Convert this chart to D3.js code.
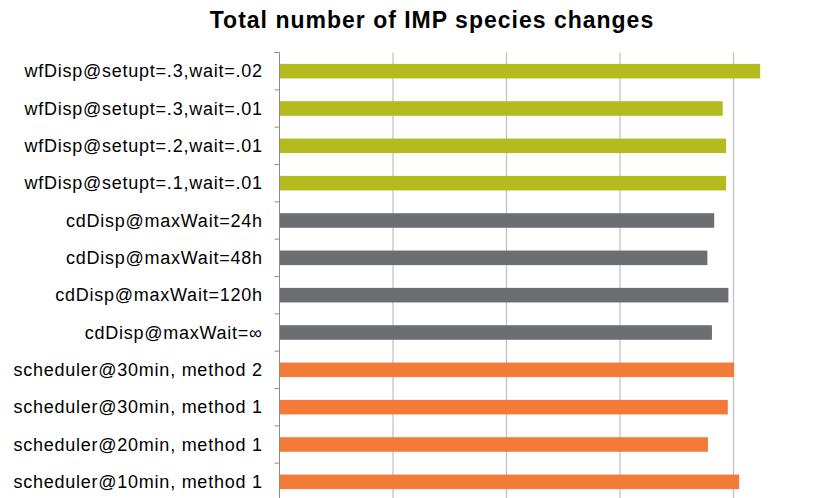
<!DOCTYPE html>
<html lang="en">
<head>
    <meta charset="UTF-8">
    <title>Total number of IMP species changes</title>
    <script src="https://cdn.jsdelivr.net/npm/d3@7"></script>
    <style>
        html, body {
            margin: 0;
            padding: 0;
            width: 100%;
            height: 100%;
            overflow: hidden;
            background: #fff;
        }
        text {
            font-family: Arial, 'Liberation Sans', sans-serif;
        }
        .grid line {
            stroke: #c4c4c4;
            stroke-width: 1.3px;
        }
        .axis line {
            stroke: #8c8c8c;
            stroke-width: 1px;
        }
    </style>
</head>
<body>
</body>
<script>
    // categories top to bottom
    let categories = [
        'wfDisp@setupt=.3,wait=.02',
        'wfDisp@setupt=.3,wait=.01',
        'wfDisp@setupt=.2,wait=.01',
        'wfDisp@setupt=.1,wait=.01',
        'cdDisp@maxWait=24h',
        'cdDisp@maxWait=48h',
        'cdDisp@maxWait=120h',
        'cdDisp@maxWait=\u221e',
        'scheduler@30min, method 2',
        'scheduler@30min, method 1',
        'scheduler@20min, method 1',
        'scheduler@10min, method 1'
    ];
    let values = [847, 781, 787, 787, 766, 754, 791, 762, 801, 790, 755, 810];
    let groups = ['wf', 'wf', 'wf', 'wf', 'cd', 'cd', 'cd', 'cd', 'sch', 'sch', 'sch', 'sch'];
    let gridTicks = [0, 200, 400, 600, 800];

    let colors = {wf: '#b3bb1f', cd: '#6d6e71', sch: '#f47a37'};

    let width = 833;
    let height = 498;

    let svg = d3.select('body').append('svg')
        .attr('width', width)
        .attr('height', height);

    let x = d3.scaleLinear().domain([0, 800]).range([279.5, 733.5]);
    let y = d3.scaleBand()
        .domain(categories)
        .range([52.5, 500.5])
        .paddingInner(0.61)
        .paddingOuter(0.305);

    svg.append('text')
        .attr('x', 432)
        .attr('y', 28)
        .attr('text-anchor', 'middle')
        .style('font-size', '23px')
        .style('font-weight', 'bold')
        .style('letter-spacing', '1px')
        .text('Total number of IMP species changes');

    // vertical gridlines
    svg.append('g').classed('grid', true)
        .selectAll('line')
        .data(gridTicks.slice(1)).enter()
        .append('line')
        .attr('x1', d => x(d))
        .attr('x2', d => x(d))
        .attr('y1', 52.5)
        .attr('y2', height + 10);

    // bars
    svg.append('g')
        .selectAll('rect')
        .data(categories).enter()
        .append('rect')
        .attr('x', x(0))
        .attr('y', d => y(d))
        .attr('height', y.bandwidth())
        .attr('width', (d, i) => x(values[i]) - x(0))
        .attr('fill', (d, i) => colors[groups[i]]);

    // category axis
    let axis = svg.append('g').classed('axis', true);
    axis.append('line')
        .attr('x1', x(0)).attr('x2', x(0))
        .attr('y1', 52.5).attr('y2', height + 10);
    let step = y.step();
    axis.selectAll('.tick')
        .data(d3.range(categories.length + 1)).enter()
        .append('line')
        .attr('x1', x(0) - 5).attr('x2', x(0))
        .attr('y1', i => 52.5 + i * step)
        .attr('y2', i => 52.5 + i * step);

    svg.append('g')
        .selectAll('text')
        .data(categories).enter()
        .append('text')
        .attr('x', 262.7)
        .attr('y', d => y(d) + y.bandwidth() / 2)
        .attr('dy', '0.35em')
        .attr('text-anchor', 'end')
        .style('font-size', '18px')
        .style('letter-spacing', '0.75px')
        .attr('fill', '#000')
        .text(d => d);
</script>
</html>
